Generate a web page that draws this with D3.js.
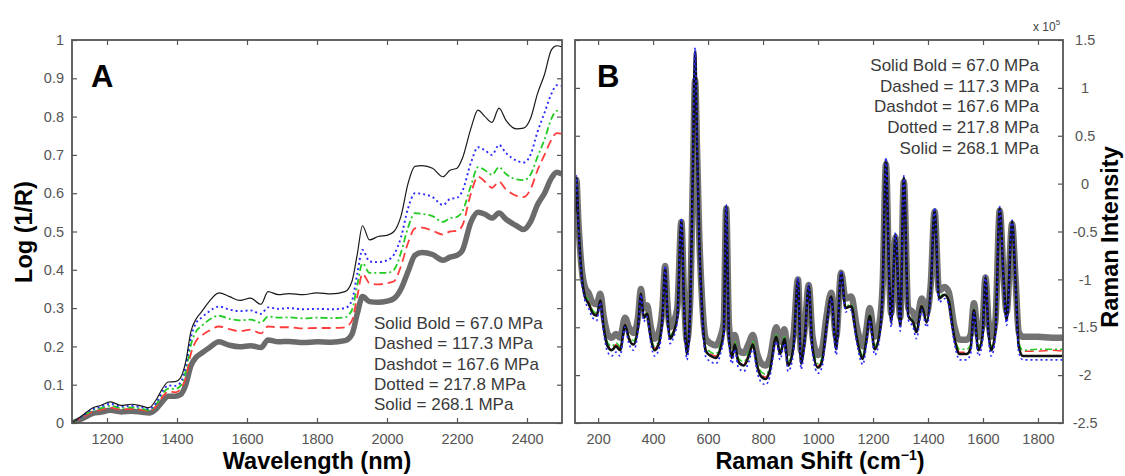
<!DOCTYPE html>
<meta charset="utf-8">
<title>NIR and Raman spectra</title>
<style>
body {
  margin: 0px;
  background: #fff;
}
text {
  font-family: Arial, "Liberation Sans", sans-serif;
}
.tick text {
  fill: #555;
  font-size: 14.5px;
}
.legend {
  fill: #3a3a3a;
  font-size: 17px;
}
.title {
  fill: #000;
  font-size: 23.5px;
  font-weight: bold;
}
.panel {
  fill: #000;
  font-size: 31px;
  font-weight: bold;
}
</style>
<script src="https://d3js.org/d3.v7.min.js"></script>
<body>
<script>
var width = 1125, height = 476;

// NIR spectra (panel A) - wavelength in nm, Log(1/R)
var nirWave = [1100,1130,1160,1180,1210,1240,1270,1300,1320,1340,1360,1375,1395,1410,1425,1440,1455,1470,1490,1520,
  1550,1580,1610,1640,1660,1690,1720,1760,1800,1840,1880,1900,1915,1930,1950,1975,2000,2020,2040,2060,
  2080,2100,2130,2160,2180,2200,2215,2240,2260,2280,2300,2320,2340,2370,2390,2410,2430,2450,2470,2485,2500];
var nirSolid = [0.000,0.020,0.040,0.045,0.055,0.046,0.049,0.044,0.040,0.060,0.092,0.107,0.108,0.118,0.160,0.240,0.272,0.290,0.315,0.340,
  0.330,0.320,0.326,0.310,0.343,0.335,0.338,0.335,0.340,0.337,0.343,0.370,0.440,0.515,0.478,0.487,0.490,0.500,0.540,0.625,
  0.670,0.672,0.665,0.643,0.660,0.665,0.690,0.770,0.817,0.800,0.785,0.822,0.790,0.768,0.770,0.795,0.860,0.910,0.975,0.985,0.982];
var nirDotted = [0.000,0.018,0.037,0.042,0.050,0.043,0.045,0.041,0.037,0.052,0.085,0.098,0.097,0.105,0.150,0.225,0.262,0.275,0.290,0.304,
  0.296,0.292,0.294,0.285,0.302,0.298,0.300,0.297,0.298,0.297,0.300,0.320,0.390,0.452,0.422,0.420,0.425,0.440,0.485,0.560,
  0.600,0.598,0.590,0.569,0.585,0.588,0.605,0.680,0.720,0.712,0.700,0.726,0.705,0.685,0.680,0.700,0.760,0.810,0.860,0.882,0.880];
var nirDashdot = [0.000,0.017,0.034,0.038,0.045,0.039,0.041,0.037,0.034,0.048,0.078,0.090,0.089,0.097,0.135,0.205,0.240,0.253,0.268,0.280,
  0.272,0.268,0.270,0.262,0.278,0.275,0.276,0.273,0.275,0.274,0.276,0.295,0.360,0.417,0.392,0.392,0.392,0.400,0.445,0.510,
  0.548,0.546,0.540,0.525,0.535,0.538,0.552,0.620,0.668,0.660,0.648,0.668,0.650,0.636,0.634,0.648,0.695,0.740,0.795,0.815,0.812];
var nirDashed = [0.000,0.015,0.030,0.034,0.040,0.035,0.037,0.034,0.031,0.044,0.070,0.082,0.080,0.088,0.118,0.182,0.215,0.228,0.240,0.252,
  0.245,0.240,0.244,0.234,0.252,0.250,0.250,0.247,0.248,0.248,0.250,0.268,0.330,0.390,0.365,0.362,0.365,0.370,0.410,0.470,
  0.508,0.510,0.502,0.492,0.500,0.502,0.515,0.600,0.643,0.630,0.614,0.630,0.610,0.593,0.590,0.610,0.660,0.700,0.740,0.757,0.755];
var nirBold = [0.000,0.012,0.025,0.028,0.033,0.029,0.031,0.028,0.026,0.036,0.058,0.070,0.070,0.074,0.100,0.150,0.172,0.182,0.195,0.212,
  0.203,0.199,0.202,0.197,0.217,0.212,0.213,0.210,0.212,0.211,0.215,0.232,0.285,0.330,0.317,0.315,0.318,0.325,0.350,0.395,
  0.438,0.445,0.440,0.425,0.433,0.438,0.450,0.525,0.550,0.545,0.535,0.548,0.532,0.515,0.505,0.525,0.570,0.600,0.640,0.655,0.650];

// Raman spectra (panel B) - shift in cm-1, intensity x 10^5
var ramanShift = [116,121,128,140,152,165,180,195,208,220,235,250,265,280,298,312,329,345,356,366,
  378,392,405,420,434,444,452,462,475,488,503,512,523,535,545,553,560,568,578,592,
  610,628,645,657,666,676,687,697,710,730,748,763,778,795,810,825,848,862,878,891,
  910,927,938,952,966,980,1000,1015,1030,1048,1066,1084,1100,1121,1140,1163,1175,1188,1206,1222,
  1235,1247,1258,1266,1282,1299,1312,1328,1346,1358,1377,1395,1410,1424,1440,1460,1475,1495,1515,1540,
  1555,1567,1583,1598,1609,1620,1630,1645,1661,1675,1686,1706,1718,1730,1745,1800,1850,1891];
var ramanSolid = [-0.30,0.06,-0.40,-0.95,-1.18,-1.25,-1.35,-1.38,-1.22,-1.50,-1.70,-1.74,-1.70,-1.74,-1.48,-1.62,-1.68,-1.50,-1.15,-1.40,
  -1.36,-1.62,-1.74,-1.68,-1.40,-0.88,-1.35,-1.62,-1.55,-1.40,-0.38,-1.20,-1.78,-1.30,0.20,1.38,0.40,-0.60,-1.30,-1.75,
  -1.80,-1.82,-1.72,-1.55,-0.24,-1.60,-1.82,-1.68,-1.86,-1.90,-1.80,-1.68,-1.90,-2.02,-2.04,-1.95,-1.60,-1.78,-1.62,-1.90,
  -1.72,-1.00,-1.88,-1.60,-1.07,-1.72,-1.92,-1.85,-1.50,-1.18,-1.73,-0.93,-1.30,-1.28,-1.60,-1.83,-1.65,-1.38,-1.73,-1.60,
  -1.10,0.25,-0.90,-1.45,-0.53,-1.49,0.06,-1.38,-1.45,-1.55,-1.28,-1.45,-1.10,-0.27,-1.20,-1.16,-1.22,-1.60,-1.78,-1.78,
  -1.72,-1.32,-1.74,-1.60,-0.98,-1.55,-1.74,-1.55,-0.26,-1.00,-1.43,-0.40,-1.00,-1.70,-1.80,-1.80,-1.80,-1.80];
var ramanBold = [-0.30,0.04,-0.38,-0.88,-1.08,-1.14,-1.24,-1.26,-1.15,-1.38,-1.57,-1.61,-1.57,-1.61,-1.40,-1.50,-1.56,-1.40,-1.10,-1.30,
  -1.27,-1.50,-1.62,-1.56,-1.30,-0.86,-1.25,-1.50,-1.44,-1.30,-0.40,-1.12,-1.65,-1.22,0.10,1.08,0.35,-0.55,-1.20,-1.62,
  -1.67,-1.69,-1.60,-1.45,-0.26,-1.48,-1.69,-1.58,-1.73,-1.77,-1.67,-1.58,-1.77,-1.88,-1.90,-1.82,-1.50,-1.65,-1.52,-1.77,
  -1.60,-1.00,-1.75,-1.50,-1.06,-1.60,-1.79,-1.72,-1.40,-1.14,-1.60,-0.93,-1.20,-1.18,-1.48,-1.70,-1.54,-1.30,-1.60,-1.48,
  -1.05,0.20,-0.88,-1.36,-0.56,-1.40,0.02,-1.30,-1.35,-1.44,-1.20,-1.35,-1.05,-0.29,-1.12,-1.08,-1.13,-1.48,-1.63,-1.63,
  -1.58,-1.25,-1.60,-1.48,-0.98,-1.44,-1.60,-1.44,-0.28,-0.97,-1.34,-0.42,-0.97,-1.55,-1.60,-1.60,-1.61,-1.61];
var ramanDashdot = [-0.30,0.05,-0.40,-0.93,-1.15,-1.22,-1.32,-1.35,-1.22,-1.47,-1.66,-1.70,-1.66,-1.70,-1.47,-1.59,-1.64,-1.48,-1.15,-1.38,
  -1.35,-1.59,-1.70,-1.64,-1.38,-0.90,-1.33,-1.59,-1.52,-1.38,-0.40,-1.18,-1.74,-1.29,0.15,1.20,0.38,-0.60,-1.28,-1.71,
  -1.76,-1.78,-1.68,-1.53,-0.26,-1.57,-1.78,-1.65,-1.82,-1.86,-1.76,-1.65,-1.86,-1.97,-1.99,-1.91,-1.58,-1.74,-1.60,-1.86,
  -1.68,-1.02,-1.84,-1.58,-1.08,-1.68,-1.88,-1.81,-1.48,-1.18,-1.69,-0.95,-1.28,-1.26,-1.57,-1.79,-1.62,-1.37,-1.69,-1.57,
  -1.10,0.22,-0.90,-1.43,-0.55,-1.47,0.04,-1.37,-1.43,-1.52,-1.27,-1.43,-1.10,-0.29,-1.18,-1.15,-1.20,-1.57,-1.73,-1.73,
  -1.68,-1.31,-1.70,-1.57,-1.00,-1.52,-1.70,-1.52,-0.28,-1.00,-1.41,-0.42,-1.00,-1.65,-1.74,-1.73,-1.73,-1.73];
var ramanDashed = [-0.30,0.04,-0.40,-0.94,-1.16,-1.23,-1.33,-1.36,-1.22,-1.48,-1.68,-1.72,-1.68,-1.72,-1.47,-1.60,-1.66,-1.49,-1.15,-1.39,
  -1.35,-1.60,-1.72,-1.66,-1.39,-0.91,-1.34,-1.60,-1.53,-1.39,-0.42,-1.19,-1.76,-1.30,0.12,1.15,0.36,-0.60,-1.29,-1.73,
  -1.78,-1.80,-1.70,-1.54,-0.28,-1.58,-1.80,-1.67,-1.84,-1.88,-1.78,-1.67,-1.88,-2.00,-2.02,-1.93,-1.59,-1.76,-1.61,-1.88,
  -1.70,-1.03,-1.86,-1.59,-1.09,-1.70,-1.90,-1.83,-1.49,-1.18,-1.71,-0.96,-1.29,-1.27,-1.58,-1.81,-1.64,-1.37,-1.71,-1.58,
  -1.10,0.20,-0.91,-1.44,-0.57,-1.48,0.02,-1.37,-1.44,-1.53,-1.27,-1.44,-1.10,-0.31,-1.19,-1.15,-1.21,-1.58,-1.76,-1.76,
  -1.70,-1.31,-1.72,-1.58,-1.01,-1.53,-1.72,-1.53,-0.30,-1.01,-1.42,-0.44,-1.01,-1.67,-1.75,-1.75,-1.74,-1.75];
var ramanDotted = [-0.30,0.08,-0.42,-0.98,-1.22,-1.30,-1.40,-1.43,-1.24,-1.55,-1.76,-1.80,-1.76,-1.80,-1.50,-1.67,-1.74,-1.54,-1.16,-1.44,
  -1.39,-1.67,-1.80,-1.74,-1.44,-0.86,-1.39,-1.67,-1.60,-1.44,-0.36,-1.24,-1.84,-1.33,0.25,1.42,0.42,-0.62,-1.34,-1.81,
  -1.86,-1.88,-1.78,-1.59,-0.22,-1.65,-1.88,-1.73,-1.92,-1.96,-1.86,-1.73,-1.96,-2.08,-2.10,-2.01,-1.65,-1.84,-1.67,-1.96,
  -1.78,-0.98,-1.94,-1.65,-1.05,-1.78,-1.98,-1.91,-1.54,-1.20,-1.79,-0.91,-1.34,-1.32,-1.65,-1.89,-1.70,-1.42,-1.79,-1.65,
  -1.12,0.27,-0.90,-1.50,-0.51,-1.54,0.08,-1.42,-1.50,-1.62,-1.32,-1.50,-1.12,-0.25,-1.24,-1.20,-1.26,-1.65,-1.84,-1.84,
  -1.78,-1.35,-1.80,-1.65,-0.96,-1.60,-1.80,-1.60,-0.24,-1.02,-1.48,-0.38,-1.02,-1.76,-1.84,-1.84,-1.84,-1.84];

var legendLines = ["Solid Bold = 67.0 MPa", "Dashed = 117.3 MPa", "Dashdot = 167.6 MPa",
  "Dotted = 217.8 MPa", "Solid = 268.1 MPa"];
var nirTicksX = [1200, 1400, 1600, 1800, 2000, 2200, 2400];
var nirTicksY = [0, 0.1, 0.2, 0.3, 0.4, 0.5, 0.6, 0.7, 0.8, 0.9, 1];
var ramanTicksX = [200, 400, 600, 800, 1000, 1200, 1400, 1600, 1800];
var ramanTicksY = [-2.5, -2, -1.5, -1, -0.5, 0, 0.5, 1, 1.5];

var svg = d3.select("body").append("svg")
    .attr("width", width)
    .attr("height", height);

var axisColor = "#555";

// line styles for the five pressures
var styles = {
  bold:    {stroke: "#6b6b6b", width: 5.5, dash: null},
  dashed:  {stroke: "#ff3b3b", width: 1.8, dash: "9,5"},
  dashdot: {stroke: "#22cc22", width: 1.8, dash: "7,3,2,3"},
  dotted:  {stroke: "#2b2bff", width: 1.9, dash: "2,3"},
  solid:   {stroke: "#1a1a1a", width: 1.2, dash: null}
};

function panel(opts) {
  var g = svg.append("g");
  var x = d3.scaleLinear().domain(opts.xDomain).range([opts.left, opts.right]);
  var y = d3.scaleLinear().domain(opts.yDomain).range([opts.bottom, opts.top]);

  var clipId = "clip" + opts.name;
  svg.append("clipPath").attr("id", clipId)
    .append("rect")
      .attr("x", opts.left).attr("y", opts.top)
      .attr("width", opts.right - opts.left).attr("height", opts.bottom - opts.top);

  var curves = g.append("g").attr("clip-path", "url(#" + clipId + ")");
  opts.series.forEach(function(s) {
    var st = styles[s.style];
    var line = d3.line()
        .x(function(d, i) { return x(opts.xs[i]); })
        .y(function(d) { return y(d); })
        .curve(d3.curveMonotoneX);
    curves.append("path")
      .datum(s.values)
      .attr("d", line)
      .attr("fill", "none")
      .attr("stroke", s.color || st.stroke)
      .attr("stroke-width", s.width || st.width)
      .attr("stroke-linejoin", "round")
      .attr("stroke-dasharray", st.dash);
  });

  // bottom axis with labels, ticks pointing inwards
  var xb = g.append("g").attr("transform", "translate(0," + opts.bottom + ")")
    .call(d3.axisBottom(x).tickValues(opts.xTicks).tickSize(-5).tickPadding(11).tickFormat(d3.format("d")));
  var xt = g.append("g").attr("transform", "translate(0," + opts.top + ")")
    .call(d3.axisTop(x).tickValues(opts.xTicks).tickSize(-5).tickFormat(""));

  var yAxisLab = opts.yRight
    ? d3.axisRight(y).tickValues(opts.yTicks).tickSize(-5).tickPadding(12)
    : d3.axisLeft(y).tickValues(opts.yTicks).tickSize(-5).tickPadding(8);
  var yl = g.append("g")
    .attr("transform", "translate(" + (opts.yRight ? opts.right : opts.left) + ",0)")
    .call(yAxisLab.tickFormat(function(d) { return d3.format("")(d).replace("−", "-"); }));
  var yAxisPlain = opts.yRight ? d3.axisLeft(y) : d3.axisRight(y);
  var yr = g.append("g")
    .attr("transform", "translate(" + (opts.yRight ? opts.left : opts.right) + ",0)")
    .call(yAxisPlain.tickValues(opts.yTicks).tickSize(-5).tickFormat(""));
  if (opts.yRight) {
    yl.selectAll(".tick text").attr("text-anchor", "middle").attr("dx", "0.7em");
  }

  [xb, xt, yl, yr].forEach(function(a) {
    a.select(".domain").remove();
    a.selectAll(".tick line").attr("stroke", axisColor).attr("stroke-width", 1.2);
    a.selectAll(".tick text").attr("font-family", null).attr("font-size", null);
  });

  g.append("rect")
    .attr("x", opts.left).attr("y", opts.top)
    .attr("width", opts.right - opts.left).attr("height", opts.bottom - opts.top)
    .attr("fill", "none").attr("stroke", axisColor).attr("stroke-width", 1.8);

  return {g: g, x: x, y: y};
}

var A = panel({
  name: "A", left: 72, right: 562, top: 40, bottom: 423,
  xDomain: [1100, 2500], yDomain: [0, 1],
  xTicks: nirTicksX, yTicks: nirTicksY, yRight: false,
  xs: nirWave,
  series: [
    {style: "bold", values: nirBold},
    {style: "dashed", values: nirDashed},
    {style: "dashdot", values: nirDashdot},
    {style: "dotted", values: nirDotted},
    {style: "solid", values: nirSolid}
  ]
});

var B = panel({
  name: "B", left: 575, right: 1063, top: 40, bottom: 423,
  xDomain: [116, 1891], yDomain: [-2.5, 1.5],
  xTicks: ramanTicksX, yTicks: ramanTicksY, yRight: true,
  xs: ramanShift,
  series: [
    {style: "bold", values: ramanBold, width: 6.5, color: "#737373"},
    {style: "dashed", values: ramanDashed, width: 1.5},
    {style: "dashdot", values: ramanDashdot, width: 1.5},
    {style: "solid", values: ramanSolid, width: 2.6, color: "#111"},
    {style: "dotted", values: ramanDotted, width: 1.7}
  ]
});

// panel letters
svg.append("text").attr("class", "panel").attr("x", 91).attr("y", 87).text("A");
svg.append("text").attr("class", "panel").attr("x", 597).attr("y", 87).text("B");

// legends
legendLines.forEach(function(t, i) {
  svg.append("text").attr("class", "legend")
    .attr("x", 374).attr("y", 329 + i * 20.3).text(t);
  svg.append("text").attr("class", "legend")
    .attr("x", 1039).attr("y", 71 + i * 20.7)
    .attr("text-anchor", "end").text(t);
});

// axis titles
svg.append("text").attr("class", "title")
  .attr("x", 317).attr("y", 469).attr("text-anchor", "middle")
  .text("Wavelength (nm)");

var rs = svg.append("text").attr("class", "title")
  .attr("x", 820).attr("y", 469).attr("text-anchor", "middle");
rs.append("tspan").text("Raman Shift (cm");
rs.append("tspan").attr("font-size", "14px").attr("dy", -9).text("−1");
rs.append("tspan").attr("dy", 9).text(")");

svg.append("text").attr("class", "title")
  .attr("transform", "translate(32,232) rotate(-90)")
  .attr("text-anchor", "middle")
  .text("Log (1/R)");

svg.append("text").attr("class", "title")
  .attr("transform", "translate(1118,237) rotate(-90)")
  .attr("text-anchor", "middle")
  .text("Raman Intensity");

// exponent label above the right axis
var ex = svg.append("text")
  .attr("x", 1033).attr("y", 31)
  .attr("fill", "#444").attr("font-size", "12px");
ex.append("tspan").text("x 10");
ex.append("tspan").attr("font-size", "8px").attr("dy", -6).text("5");
</script>
